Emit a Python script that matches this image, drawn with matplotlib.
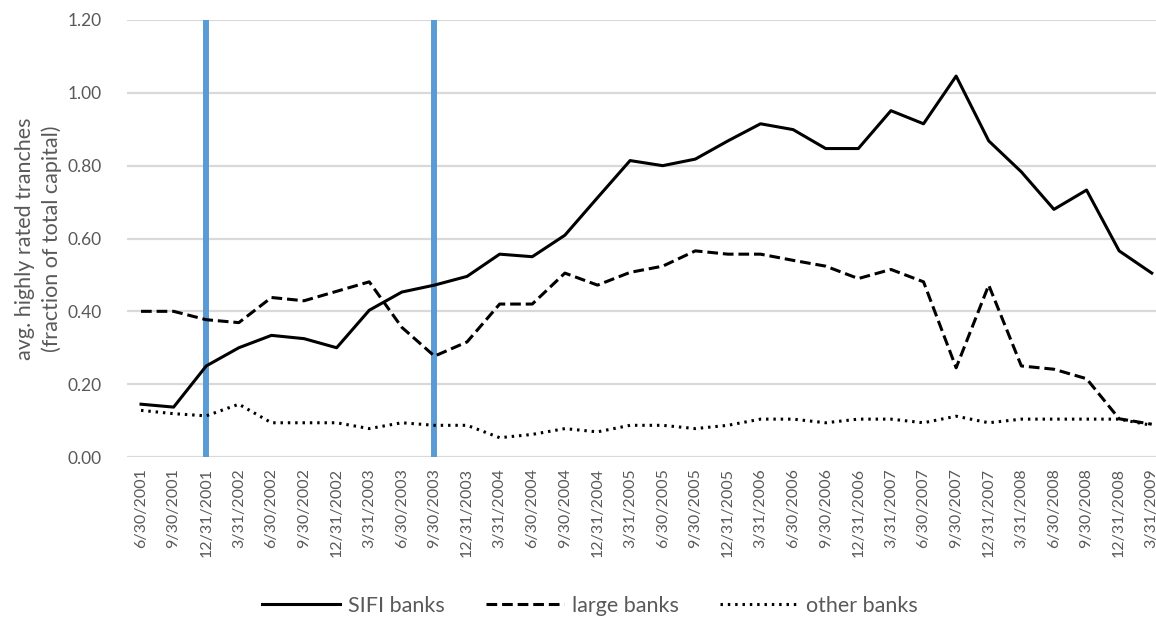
import matplotlib.pyplot as plt
from matplotlib.ticker import FormatStrFormatter

plt.rcParams['font.family'] = ['Lato', 'DejaVu Sans']

quarters = ['6/30/2001', '9/30/2001', '12/31/2001',
            '3/31/2002', '6/30/2002', '9/30/2002', '12/31/2002',
            '3/31/2003', '6/30/2003', '9/30/2003', '12/31/2003',
            '3/31/2004', '6/30/2004', '9/30/2004', '12/31/2004',
            '3/31/2005', '6/30/2005', '9/30/2005', '12/31/2005',
            '3/31/2006', '6/30/2006', '9/30/2006', '12/31/2006',
            '3/31/2007', '6/30/2007', '9/30/2007', '12/31/2007',
            '3/31/2008', '6/30/2008', '9/30/2008', '12/31/2008',
            '3/31/2009']

sifi = [0.145, 0.137, 0.25, 0.30, 0.334, 0.325, 0.30, 0.403, 0.453, 0.472,
        0.496, 0.557, 0.55, 0.609, 0.712, 0.814, 0.80, 0.818, 0.868, 0.915,
        0.899, 0.847, 0.847, 0.951, 0.915, 1.046, 0.868, 0.783, 0.68, 0.733,
        0.566, 0.505]
large = [0.40, 0.40, 0.377, 0.369, 0.438, 0.429, 0.455, 0.481, 0.356, 0.277,
         0.316, 0.42, 0.42, 0.505, 0.472, 0.507, 0.524, 0.566, 0.557, 0.557,
         0.54, 0.524, 0.49, 0.515, 0.481, 0.245, 0.472, 0.25, 0.241, 0.215,
         0.105, 0.09]
other = [0.128, 0.119, 0.113, 0.145, 0.094, 0.094, 0.094, 0.078, 0.094, 0.087,
         0.087, 0.053, 0.062, 0.078, 0.069, 0.087, 0.087, 0.078, 0.087, 0.104,
         0.104, 0.094, 0.104, 0.104, 0.094, 0.112, 0.094, 0.104, 0.104, 0.104,
         0.104, 0.087]

# quarters marked by the blue lines
events = ['12/31/2001', '9/30/2003']

fig = plt.figure(figsize=(11.56, 6.22), dpi=100)
ax = fig.add_axes([127 / 1156, 165 / 622, 1 - 127 / 1156, 437 / 622])

x = list(range(len(quarters)))
gray = '#595959'

for q in events:
    ax.axvline(quarters.index(q), color='#5B9BD5', lw=4.3, zorder=2)

ax.plot(x, sifi, color='black', lw=2.2, ls='-', label='SIFI banks', zorder=3)
ax.plot(x, large, color='black', lw=2.2, ls=(0, (3.5, 1.6)), label='large banks', zorder=3)
ax.plot(x, other, color='black', lw=2.2, ls=(0, (0.8, 1.6)), label='other banks', zorder=3)

ax.set_ylim(0, 1.2)
ax.set_yticks([0, 0.2, 0.4, 0.6, 0.8, 1.0, 1.2])
ax.yaxis.set_major_formatter(FormatStrFormatter('%.2f'))
ax.set_xlim(-0.43, 31.13)
ax.set_xticks(x)
ax.set_xticklabels(quarters, rotation=90, fontsize=11.5, color=gray)
ax.tick_params(axis='y', labelsize=12.5, labelcolor=gray, length=0, pad=18)
ax.tick_params(axis='x', length=0, pad=8)

ax.grid(axis='y', color='#D9D9D9', lw=1.6, zorder=0)
ax.set_axisbelow(True)
for s in ax.spines.values():
    s.set_visible(False)

ax.set_ylabel('avg. highly rated tranches\n(fraction of total capital)',
              fontsize=15.5, color=gray, labelpad=4, linespacing=1.4)

fig.legend(loc='center', bbox_to_anchor=(590 / 1156, 16 / 622), ncol=3,
           frameon=False, fontsize=15.5, handlelength=3.6, columnspacing=1.9,
           handletextpad=0.4, labelcolor=gray)

fig.savefig('out.png', dpi=100)
